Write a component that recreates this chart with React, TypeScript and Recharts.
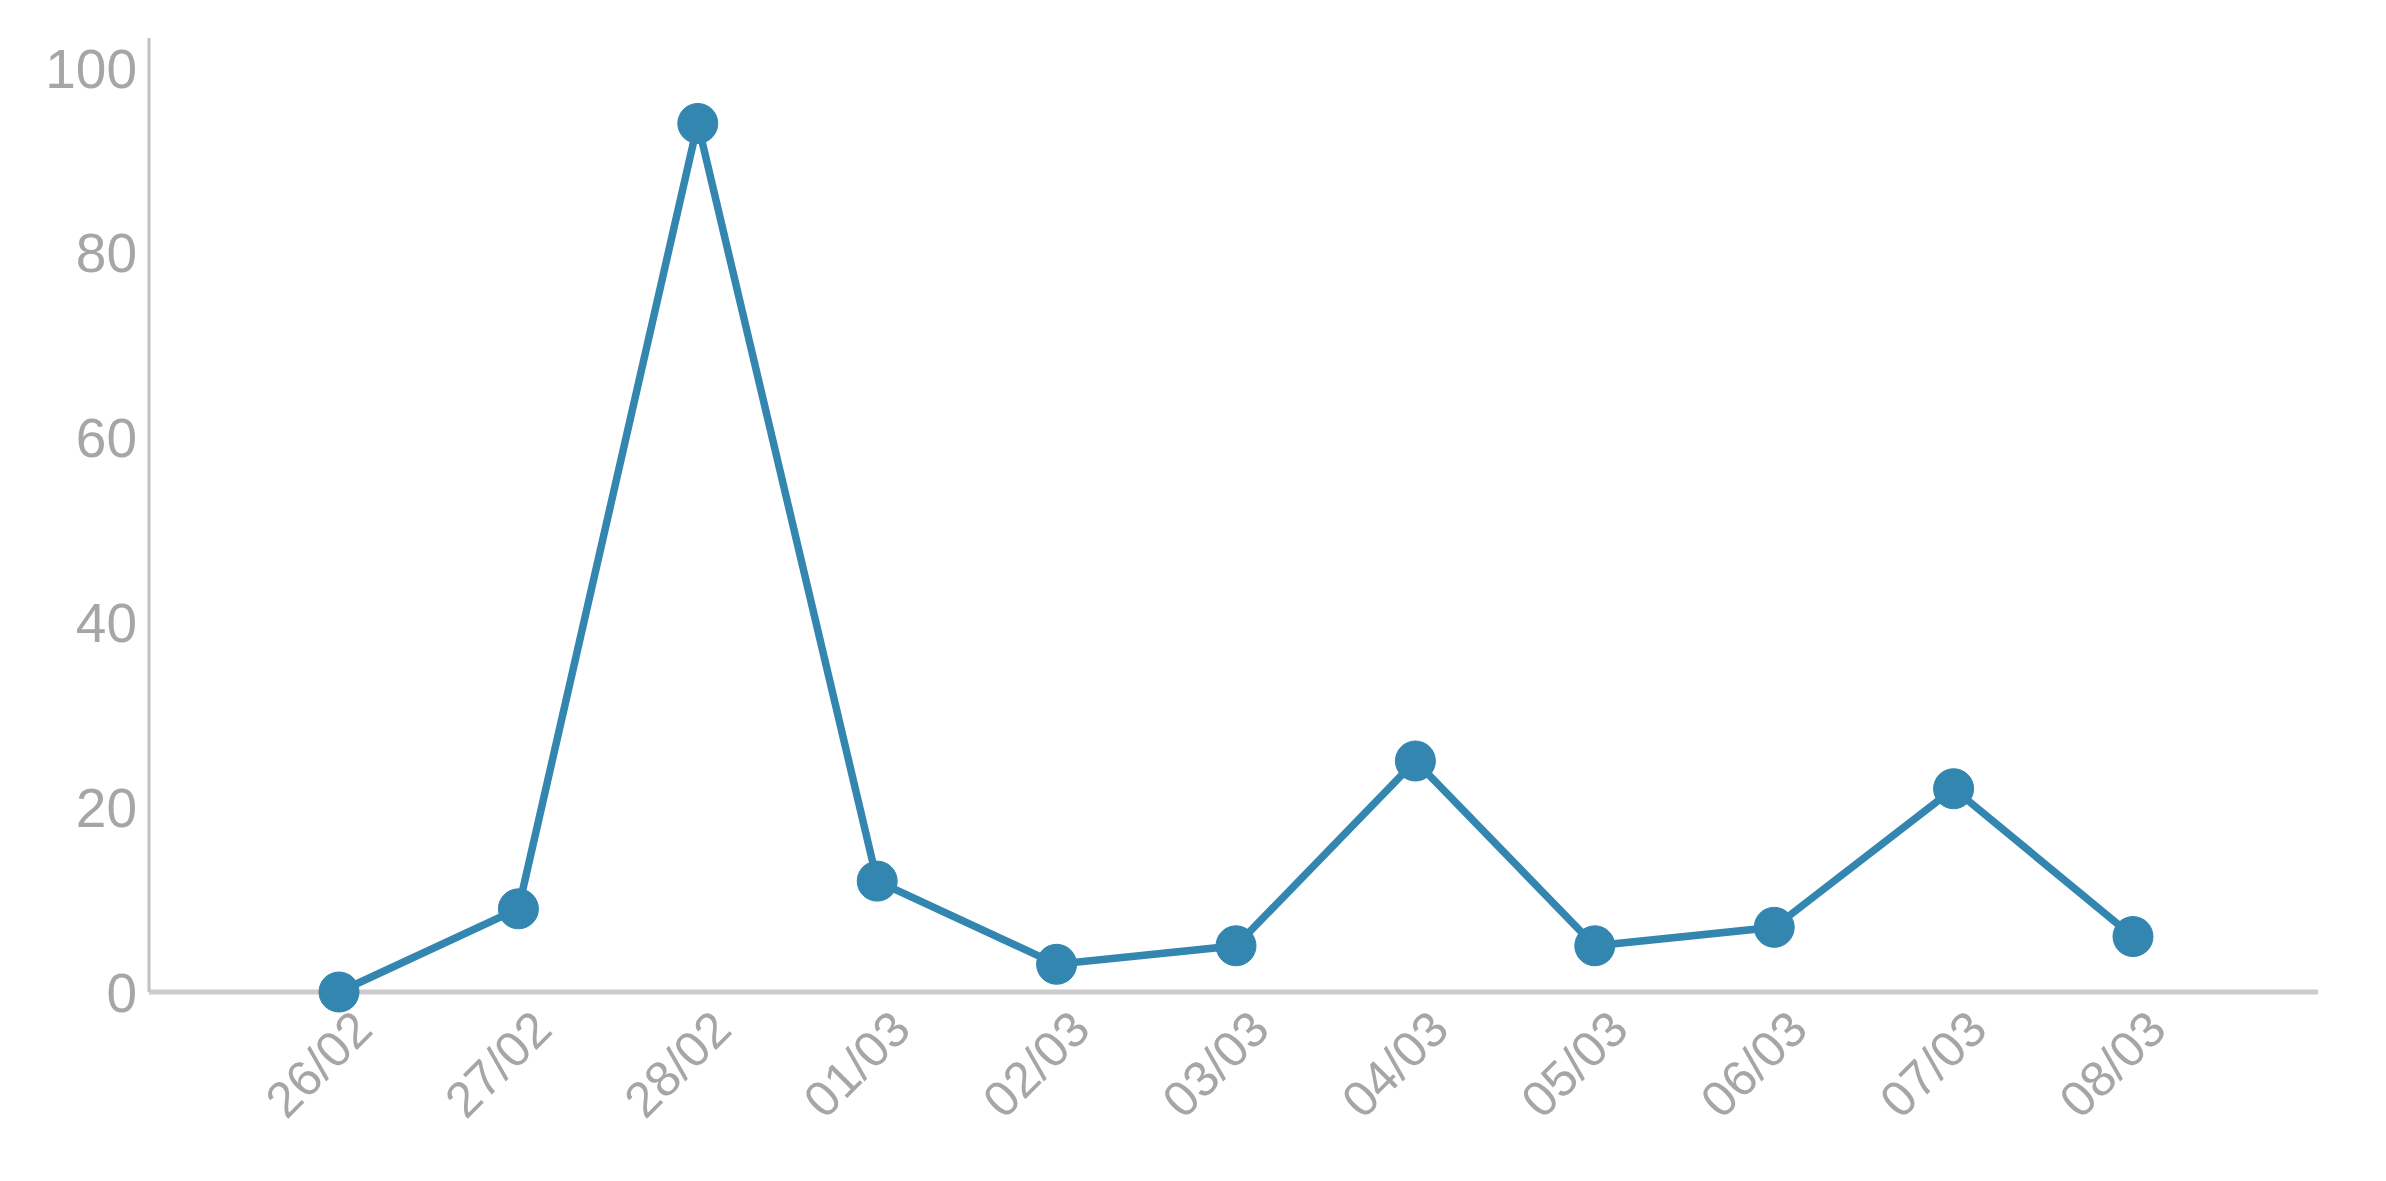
import React from "react";
import { LineChart, Line, XAxis, YAxis } from "recharts";

const days = ["26/02", "27/02", "28/02", "01/03", "02/03", "03/03", "04/03", "05/03", "06/03", "07/03", "08/03"];
const counts = [0, 9, 94, 12, 3, 5, 25, 5, 7, 22, 6];
const yTicks = [0, 20, 40, 60, 80, 100];

const data = days.map((day, i) => ({ day, value: counts[i] }));

const labelColor = "#a6a6a6";
const font = "'Liberation Sans', Arial, sans-serif";

function DayTick({ x, y, payload }: any) {
  return (
    <g transform={`translate(${x + 36},${y + 32})`}>
      <text
        x={0}
        y={0}
        textAnchor="end"
        transform="rotate(-45)"
        fill={labelColor}
        fontSize={50}
        fontFamily={font}
      >
        {payload.value}
      </text>
    </g>
  );
}

export default function App() {
  return (
    <div style={{ width: 2370, height: 1160, background: "#fff" }}>
      <LineChart width={2370} height={1160} data={data} margin={{ top: 30, right: 60, bottom: 6, left: 0 }}>
        <XAxis
          dataKey="day"
          interval={0}
          padding={{ left: 190, right: 185 }}
          axisLine={{ stroke: "#cccccc", strokeWidth: 5 }}
          tickLine={false}
          tick={<DayTick />}
          height={170}
        />
        <YAxis
          domain={[0, 100]}
          ticks={yTicks}
          width={141}
          padding={{ top: 30, bottom: 0 }}
          axisLine={{ stroke: "#c2c2c2", strokeWidth: 3 }}
          tickLine={false}
          tickMargin={6}
          tick={{ fill: labelColor, fontSize: 55, fontFamily: font }}
        />
        <Line
          type="linear"
          dataKey="value"
          stroke="#3286b0"
          strokeWidth={7.5}
          dot={{ r: 20, fill: "#3286b0", stroke: "#3286b0", strokeWidth: 1 }}
          isAnimationActive={false}
        />
      </LineChart>
    </div>
  );
}
